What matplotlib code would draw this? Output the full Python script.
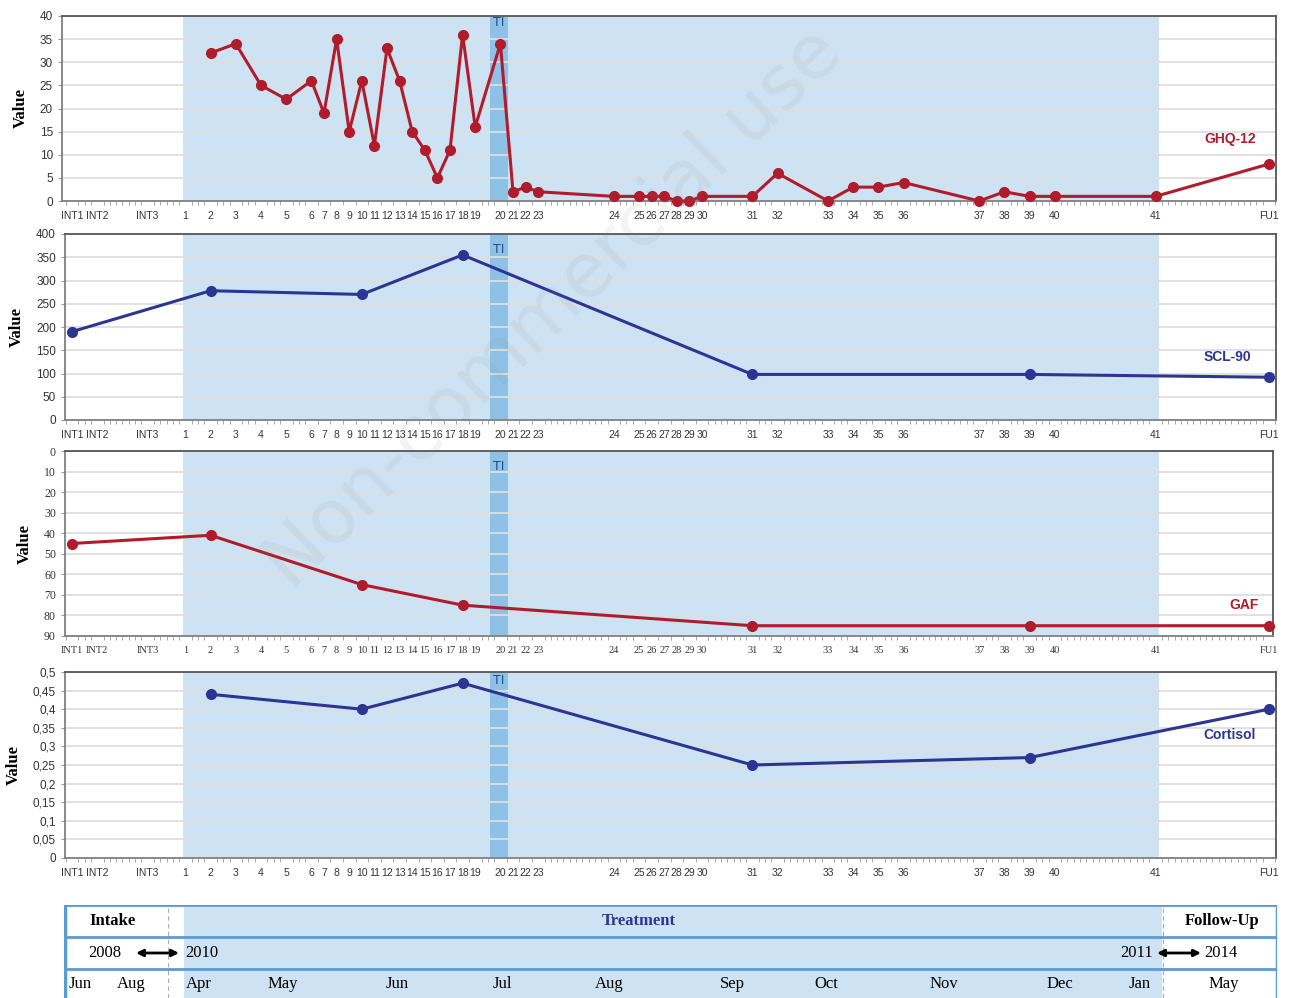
import numpy as np
import matplotlib.pyplot as plt
from matplotlib.ticker import MultipleLocator, FuncFormatter

# x-as: sessies op een tijdschaal (slots)
session_labels = ["INT1", "INT2", "INT3"] + [str(i) for i in range(1, 42)] + ["FU1"]
session_slots = [0, 2, 6, 9, 11, 13, 15, 17] + list(range(19, 33)) + [34, 35, 36, 37, 43, 45, 46, 47, 48, 49, 50,
                 54, 56, 60, 62, 64, 66, 72, 74, 76, 78, 86, 95]
slot = dict(zip(session_labels, session_slots))

treatment_span = (8.8, 86.3)
ti_span = (33.2, 34.6)

# GHQ-12
ghq_sessions = [str(i) for i in range(2, 42)] + ["FU1"]
ghq_values = [32, 34, 25, 22, 26, 19, 35, 15, 26, 12, 33, 26, 15, 11, 5, 11, 36, 16, 34, 2, 3, 2,
              1, 1, 1, 1, 0, 0, 1, 1, 6, 0, 3, 3, 4, 0, 2, 1, 1, 1, 8]

# SCL-90
scl_sessions = ["INT1", "2", "10", "18", "31", "39", "FU1"]
scl_values = [190, 278, 270, 355, 98, 98, 92]

# GAF
gaf_sessions = ["INT1", "2", "10", "18", "31", "39", "FU1"]
gaf_values = [45, 41, 65, 75, 85, 85, 85]

# Cortisol
cort_sessions = ["2", "10", "18", "31", "39", "FU1"]
cort_values = [0.44, 0.40, 0.47, 0.25, 0.27, 0.40]

# tijdlijn onderaan
months = ["Jun", "Aug", "Apr", "May", "Jun", "Jul", "Aug", "Sep", "Oct", "Nov", "Dec", "Jan", "May"]
month_px = [80, 131, 199, 283, 397, 502, 609, 732, 826, 944, 1060, 1140, 1224]

RED = "#b01c2b"
NAVY = "#2b3592"
SHADE = "#cde3f3"
TIBLUE = "#8dc2e6"
BORDER = "#5b9bd5"

W, H = 1289, 998
PX0, PXW = 72, 12.6  # slot 0 ligt op pixel 72

fig = plt.figure(figsize=(W / 100, H / 100), dpi=100)


def make_axes(left, right, top, bottom):
    ax = fig.add_axes([left / W, 1 - bottom / H, (right - left) / W, (bottom - top) / H])
    ax.set_xlim((left - PX0) / PXW, (right - PX0) / PXW)
    return ax


def style(ax, series, vals, color, ylim, ystep, name, name_pos, ti_y, serif_ticks=False, fmt=None):
    ax.axvspan(*treatment_span, color=SHADE, lw=0, zorder=0)
    ax.axvspan(*ti_span, color=TIBLUE, lw=0, zorder=0.5)
    ax.set_ylim(*ylim)
    ax.yaxis.set_major_locator(MultipleLocator(ystep))
    if fmt:
        ax.yaxis.set_major_formatter(FuncFormatter(fmt))
    ax.grid(axis="y", color="#dedede", lw=1.3, zorder=1)
    ax.set_axisbelow(True)
    xs = [slot[s] for s in series]
    ax.plot(xs, vals, color=color, lw=2.2, marker="o", ms=7, zorder=3, clip_on=False)
    ax.set_xticks(session_slots)
    tick_font = "Liberation Serif" if serif_ticks else "Liberation Sans"
    ax.set_xticklabels(session_labels, fontsize=7.5, family=tick_font, color="#333333")
    ax.tick_params(axis="x", which="major", length=0, pad=7)
    ax.xaxis.set_minor_locator(MultipleLocator(0.5))
    ax.tick_params(axis="x", which="minor", length=3, color="#999999", direction="out")
    ax.tick_params(axis="y", labelsize=8.5, length=3, color="#999999", labelcolor="#333333")
    for lab in ax.get_yticklabels():
        lab.set_family(tick_font)
    for sp in ax.spines.values():
        sp.set_color("#808080")
        sp.set_linewidth(1.3)
    ax.spines["top"].set_color("#555555")
    ax.spines["right"].set_color("#555555")
    ax.set_ylabel("Value", family="Liberation Serif", fontweight="bold", fontsize=12, labelpad=8)
    ax.text(name_pos[0], name_pos[1], name, transform=ax.transAxes, color=color,
            fontweight="bold", fontsize=10, family="Liberation Sans", ha="center", va="center")
    ax.text(sum(ti_span) / 2, ti_y, "TI", transform=ax.get_xaxis_transform(), color="#1f4e8c",
            fontsize=9, ha="center", va="center")


def comma(v, pos):
    s = ("%.2f" % v).rstrip("0").rstrip(".")
    return s.replace(".", ",")


ax1 = make_axes(62, 1276, 16, 201)
style(ax1, ghq_sessions, ghq_values, RED, (0, 40), 5, "GHQ-12", (0.962, 0.335), 0.965)

ax2 = make_axes(65, 1276, 234, 420)
style(ax2, scl_sessions, scl_values, NAVY, (0, 400), 50, "SCL-90", (0.960, 0.339), 0.915)

ax3 = make_axes(65, 1273, 451, 636)
style(ax3, gaf_sessions, gaf_values, RED, (90, 0), 10, "GAF", (0.976, 0.168), 0.915, serif_ticks=True)

ax4 = make_axes(65, 1276, 672, 858)
style(ax4, cort_sessions, cort_values, NAVY, (0, 0.5), 0.05, "Cortisol", (0.962, 0.661), 0.955, fmt=comma)

# tijdlijn-tabel
axt = fig.add_axes([64 / W, 0, (1277 - 64) / W, (H - 905) / H])
axt.set_xlim(64, 1277)
axt.set_ylim((H - 905) / 32, 0)
axt.axis("off")
axt.axvspan(184, 1162, color=SHADE, lw=0, zorder=0)
for x in (168, 1163):
    axt.axvline(x, color="#aaaaaa", lw=0.8, ls=(0, (4, 3)), zorder=1)
for y in (0, 1, 2):
    axt.axhline(y, color=BORDER, lw=2, zorder=2)
axt.axvline(64.5, color=BORDER, lw=2.5, zorder=2)
axt.axvline(1276.5, color=BORDER, lw=2.5, zorder=2)

serif = "Liberation Serif"
axt.text(113, 0.5, "Intake", family=serif, fontweight="bold", fontsize=12, ha="center", va="center")
axt.text(639, 0.5, "Treatment", family=serif, fontweight="bold", fontsize=12, color=NAVY,
         ha="center", va="center")
axt.text(1222, 0.5, "Follow-Up", family=serif, fontweight="bold", fontsize=12, ha="center", va="center")

axt.text(105, 1.5, "2008", family=serif, fontsize=12, ha="center", va="center")
axt.text(185, 1.5, "2010", family=serif, fontsize=12, ha="left", va="center")
axt.text(1153, 1.5, "2011", family=serif, fontsize=12, ha="right", va="center")
axt.text(1204, 1.5, "2014", family=serif, fontsize=12, ha="left", va="center")
for x0, x1 in ((136, 179), (1157, 1201)):
    axt.annotate("", xy=(x1, 1.5), xytext=(x0, 1.5),
                 arrowprops=dict(arrowstyle="<|-|>", color="black", lw=2, mutation_scale=10,
                                 shrinkA=0, shrinkB=0))

for m, x in zip(months, month_px):
    axt.text(x, 2.48, m, family=serif, fontsize=12, ha="center", va="center")

# watermerk
fig.text(0.43, 0.69, "Non-commercial use", fontsize=54, color="gray", alpha=0.09,
         rotation=44, ha="center", va="center", zorder=10)

fig.savefig("out.png", dpi=100)
